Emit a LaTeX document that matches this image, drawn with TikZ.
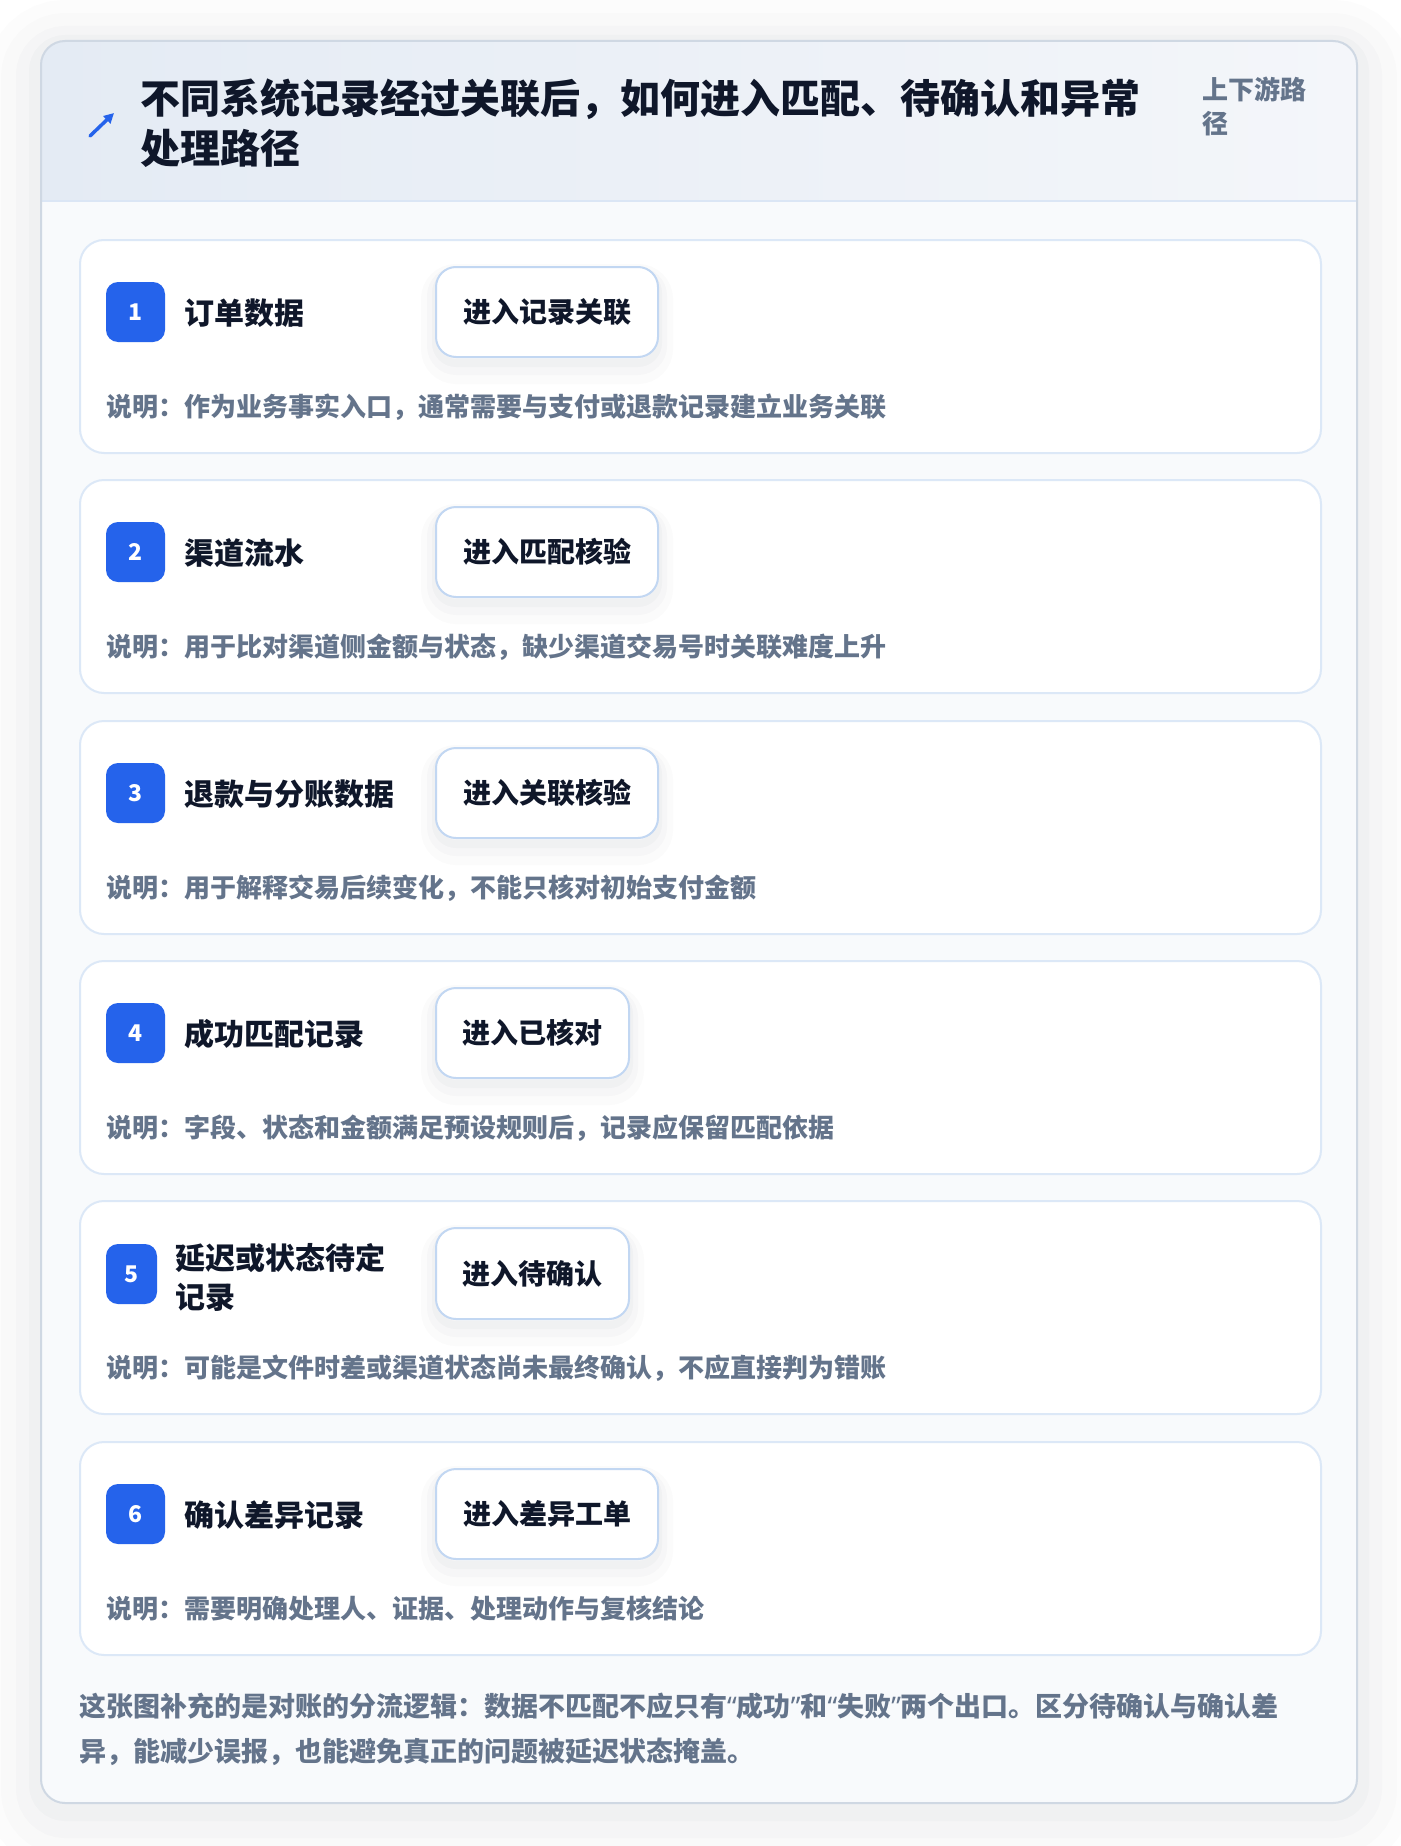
\documentclass[tikz,border=0pt]{standalone}
\usepackage{fontspec}
\setmainfont{Noto Sans CJK SC}
\newfontfamily\latinq{Noto Sans}
\usetikzlibrary{arrows.meta}
\definecolor{titlec}{HTML}{0F172A}
\definecolor{descc}{HTML}{64748B}
\definecolor{badgec}{HTML}{2563EB}
\definecolor{actborder}{HTML}{C2D7F2}
\definecolor{innerborder}{HTML}{DCE8F7}
\definecolor{cardborder}{HTML}{CFD8E3}
\definecolor{bodybg}{HTML}{F8FAFC}
\definecolor{hdrL}{HTML}{E4EBF4}
\definecolor{hdrR}{HTML}{F4F6FA}
\definecolor{hdrline}{HTML}{DBE6F5}
\definecolor{shadowc}{HTML}{1E293B}
\newcommand{\myLq}{{\latinq\bfseries “}}
\newcommand{\myRq}{{\latinq\bfseries ”}}
\tikzset{
  innercard/.style={draw=innerborder, line width=2pt, fill=white, rounded corners=24pt,
    minimum width=1241pt, minimum height=213pt, anchor=north west, inner sep=0pt},
  badge/.style={fill=badgec, rounded corners=12pt, text=white, inner sep=0pt,
    font=\bfseries\fontsize{23}{23}\selectfont, minimum height=60pt},
  rowtitle/.style={anchor=base west, inner sep=0pt, text=titlec,
    font=\bfseries\fontsize{30}{30}\selectfont},
  actbox/.style={draw=actborder, line width=2pt, fill=white, rounded corners=20pt,
    anchor=west, inner sep=0pt, minimum height=90pt, text=titlec,
    font=\bfseries\fontsize{28}{28}\selectfont,
    preaction={draw=shadowc, draw opacity=0.014, line width=30pt, transform canvas={yshift=-12pt}},
    preaction={draw=shadowc, draw opacity=0.018, line width=18pt, transform canvas={yshift=-9pt}},
    preaction={draw=shadowc, draw opacity=0.024, line width=8pt, transform canvas={yshift=-6pt}}},
  desc/.style={anchor=base west, inner sep=0pt, text=descc,
    font=\bfseries\fontsize{26}{26}\selectfont},
  foot/.style={anchor=base west, inner sep=0pt, text=descc,
    font=\bfseries\fontsize{27}{27}\selectfont},
  hdrtitle/.style={anchor=base west, inner sep=0pt, text=titlec,
    font=\bfseries\fontsize{40}{40}\selectfont},
  hdrtag/.style={anchor=base west, inner sep=0pt, text=descc,
    font=\bfseries\fontsize{26}{26}\selectfont},
}
\begin{document}
\begin{tikzpicture}[x=1pt,y=-1pt]
\useasboundingbox (0,0) rectangle (1400,1846);
\fill[white] (0,0) rectangle (1400,1846);
% outer card shadow
\path[preaction={draw=shadowc, draw opacity=0.010, line width=110pt, transform canvas={yshift=-14pt}},
      preaction={draw=shadowc, draw opacity=0.012, line width=80pt, transform canvas={yshift=-12pt}},
      preaction={draw=shadowc, draw opacity=0.014, line width=50pt, transform canvas={yshift=-10pt}},
      preaction={draw=shadowc, draw opacity=0.018, line width=24pt, transform canvas={yshift=-6pt}},
      rounded corners=24pt] (41,41) rectangle (1357,1803);
\fill[bodybg, rounded corners=24pt] (41,41) rectangle (1357,1803);
\begin{scope}
  \clip[rounded corners=24pt] (41,41) rectangle (1357,1803);
  \shade[left color=hdrL, right color=hdrR] (41,41) rectangle (1357,201);
\end{scope}
\draw[hdrline, line width=2pt] (42,201) -- (1356,201);
\draw[cardborder, line width=2pt, rounded corners=24pt] (41,41) rectangle (1357,1803);

% header
\coordinate (iconA) at (90,136);
\coordinate (iconB) at (114,113);
\draw[badgec, line width=3.5pt, line cap=round, -{Triangle[length=10pt,width=10pt]}] (iconA) -- (iconB);
\node[hdrtitle] (title1) at (140,114) {不同系统记录经过关联后，如何进入匹配、待确认和异常};
\node[hdrtitle] (title2) at (140,164) {处理路径};
\node[hdrtag] (tag1) at (1202,100) {上下游路};
\node[hdrtag] (tag2) at (1202,134) {径};

% row 1
\node[innercard] (card1) at (79,239) {};
\node[badge, minimum width=59pt] (badge1) at (135.5,312) {1};
\node[rowtitle] (rt1) at (184,324) {订单数据};
\node[actbox, minimum width=222pt] (act1) at (435,312) {进入记录关联};
\node[desc] (desc1) at (106,416) {说明：作为业务事实入口，通常需要与支付或退款记录建立业务关联};

% row 2
\node[innercard] (card2) at (79,479) {};
\node[badge, minimum width=59pt] (badge2) at (135.5,552) {2};
\node[rowtitle] (rt2) at (184,564) {渠道流水};
\node[actbox, minimum width=222pt] (act2) at (435,552) {进入匹配核验};
\node[desc] (desc2) at (106,656) {说明：用于比对渠道侧金额与状态，缺少渠道交易号时关联难度上升};

% row 3
\node[innercard] (card3) at (79,720) {};
\node[badge, minimum width=59pt] (badge3) at (135.5,793) {3};
\node[rowtitle] (rt3) at (184,805) {退款与分账数据};
\node[actbox, minimum width=222pt] (act3) at (435,793) {进入关联核验};
\node[desc] (desc3) at (106,897) {说明：用于解释交易后续变化，不能只核对初始支付金额};

% row 4
\node[innercard] (card4) at (79,960) {};
\node[badge, minimum width=59pt] (badge4) at (135.5,1033) {4};
\node[rowtitle] (rt4) at (184,1045) {成功匹配记录};
\node[actbox, minimum width=193pt] (act4) at (435,1033) {进入已核对};
\node[desc] (desc4) at (106,1137) {说明：字段、状态和金额满足预设规则后，记录应保留匹配依据};

% row 5
\node[innercard] (card5) at (79,1200) {};
\node[badge, minimum width=51pt] (badge5) at (131.5,1274) {5};
\node[rowtitle] (rt5a) at (175,1269.5) {延迟或状态待定};
\node[rowtitle] (rt5b) at (175,1308.5) {记录};
\node[actbox, minimum width=193pt, minimum height=91pt] (act5) at (435,1273.5) {进入待确认};
\node[desc] (desc5) at (106,1377) {说明：可能是文件时差或渠道状态尚未最终确认，不应直接判为错账};

% row 6
\node[innercard] (card6) at (79,1441) {};
\node[badge, minimum width=59pt] (badge6) at (135.5,1514) {6};
\node[rowtitle] (rt6) at (184,1526) {确认差异记录};
\node[actbox, minimum width=222pt] (act6) at (435,1514) {进入差异工单};
\node[desc] (desc6) at (106,1618) {说明：需要明确处理人、证据、处理动作与复核结论};

% footer
\node[foot] (foot1) at (79,1716) {这张图补充的是对账的分流逻辑：数据不匹配不应只有\myLq 成功\myRq 和\myLq 失败\myRq 两个出口。区分待确认与确认差};
\node[foot] (foot2) at (79,1761) {异，能减少误报，也能避免真正的问题被延迟状态掩盖。};
\end{tikzpicture}
\end{document}
